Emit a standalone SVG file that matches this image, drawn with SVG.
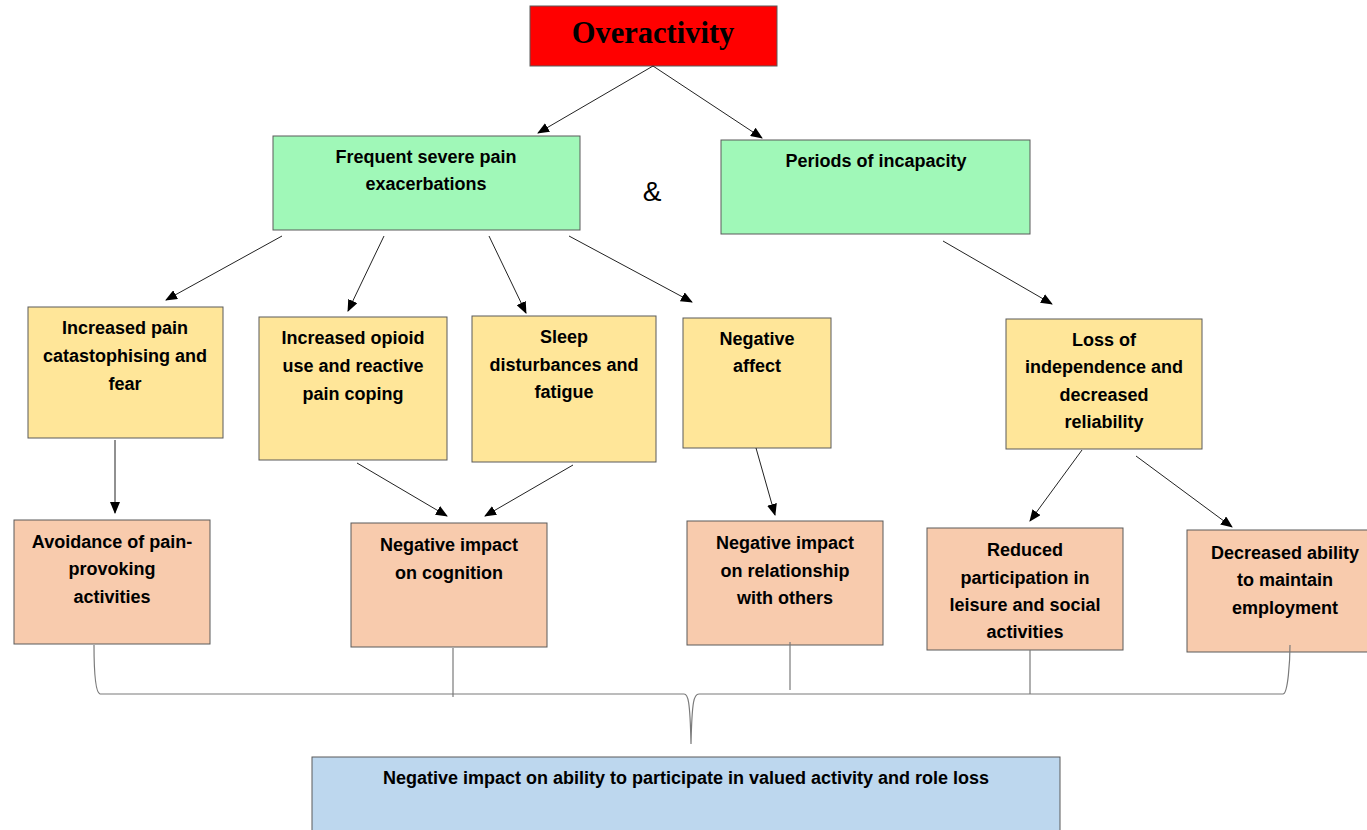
<svg xmlns="http://www.w3.org/2000/svg" width="1367" height="830" viewBox="0 0 1367 830">
<style>
.box{stroke:#5a5a5a;stroke-width:1}
.red{fill:#ff0000}
.green{fill:#a0f8b8}
.yellow{fill:#ffe699}
.salmon{fill:#f8cbad}
.blue{fill:#bdd7ee}
.t{font-family:"Liberation Sans",Arial,sans-serif;font-weight:bold;font-size:18px;fill:#000;text-anchor:middle}
.conn line{stroke:#222;stroke-width:1;marker-end:url(#ah)}
.brace{fill:none;stroke:#7a7a7a;stroke-width:1.2}
</style>
<defs>
<marker id="ah" markerWidth="12" markerHeight="10" refX="11" refY="5" orient="auto" markerUnits="userSpaceOnUse">
<path d="M0,0 L12,5 L0,10 Z" fill="#000"/>
</marker>
</defs>
<rect width="1367" height="830" fill="#fff"/>

<g id="overactivity">
<rect class="box red" x="530" y="6" width="247" height="60"/>
<text x="653" y="43" text-anchor="middle" font-family="Liberation Serif,Times New Roman,serif" font-weight="bold" font-size="30.5">Overactivity</text>
</g>

<g id="pain-exacerbations">
<rect class="box green" x="273" y="136" width="307" height="94"/>
<text class="t" x="426" y="163">Frequent severe pain</text>
<text class="t" x="426" y="190">exacerbations</text>
</g>

<g id="ampersand">
<text x="652" y="201" text-anchor="middle" font-family="Liberation Sans,Arial,sans-serif" font-size="28">&amp;</text>
</g>

<g id="incapacity">
<rect class="box green" x="721" y="140" width="309" height="94"/>
<text class="t" x="876" y="167">Periods of incapacity</text>
</g>

<g id="catastrophising">
<rect class="box yellow" x="28" y="307" width="195" height="131"/>
<text class="t" x="125" y="334">Increased pain</text>
<text class="t" x="125" y="362">catastophising and</text>
<text class="t" x="125" y="390">fear</text>
</g>

<g id="opioid">
<rect class="box yellow" x="259" y="317" width="188" height="143"/>
<text class="t" x="353" y="344">Increased opioid</text>
<text class="t" x="353" y="372">use and reactive</text>
<text class="t" x="353" y="400">pain coping</text>
</g>

<g id="sleep">
<rect class="box yellow" x="472" y="316" width="184" height="146"/>
<text class="t" x="564" y="343">Sleep</text>
<text class="t" x="564" y="371">disturbances and</text>
<text class="t" x="564" y="398">fatigue</text>
</g>

<g id="affect">
<rect class="box yellow" x="683" y="318" width="148" height="130"/>
<text class="t" x="757" y="345">Negative</text>
<text class="t" x="757" y="372">affect</text>
</g>

<g id="independence">
<rect class="box yellow" x="1006" y="319" width="196" height="130"/>
<text class="t" x="1104" y="346">Loss of</text>
<text class="t" x="1104" y="373">independence and</text>
<text class="t" x="1104" y="401">decreased</text>
<text class="t" x="1104" y="428">reliability</text>
</g>

<g id="avoidance">
<rect class="box salmon" x="14" y="520" width="196" height="124"/>
<text class="t" x="112" y="548">Avoidance of pain-</text>
<text class="t" x="112" y="575">provoking</text>
<text class="t" x="112" y="603">activities</text>
</g>

<g id="cognition">
<rect class="box salmon" x="351" y="523" width="196" height="124"/>
<text class="t" x="449" y="551">Negative impact</text>
<text class="t" x="449" y="579">on cognition</text>
</g>

<g id="relationship">
<rect class="box salmon" x="687" y="521" width="196" height="124"/>
<text class="t" x="785" y="549">Negative impact</text>
<text class="t" x="785" y="577">on relationship</text>
<text class="t" x="785" y="604">with others</text>
</g>

<g id="participation">
<rect class="box salmon" x="927" y="528" width="196" height="122"/>
<text class="t" x="1025" y="556">Reduced</text>
<text class="t" x="1025" y="584">participation in</text>
<text class="t" x="1025" y="611">leisure and social</text>
<text class="t" x="1025" y="638">activities</text>
</g>

<g id="employment">
<rect class="box salmon" x="1187" y="530" width="182" height="122"/>
<text class="t" x="1285" y="559">Decreased ability</text>
<text class="t" x="1285" y="586">to maintain</text>
<text class="t" x="1285" y="614">employment</text>
</g>

<g id="role-loss">
<rect class="box blue" x="312" y="757" width="748" height="80"/>
<text class="t" x="686" y="784">Negative impact on ability to participate in valued activity and role loss</text>
</g>

<g id="connectors" class="conn">
<line x1="653" y1="66" x2="538" y2="133"/>
<line x1="653" y1="66" x2="762" y2="138"/>
<line x1="282" y1="236" x2="166" y2="300"/>
<line x1="384" y1="236" x2="348" y2="311"/>
<line x1="489" y1="236" x2="526" y2="313"/>
<line x1="569" y1="236" x2="692" y2="302"/>
<line x1="943" y1="241" x2="1052" y2="304"/>
<line x1="115" y1="440" x2="115" y2="513"/>
<line x1="357" y1="463" x2="447" y2="516"/>
<line x1="573" y1="465" x2="485" y2="516"/>
<line x1="756" y1="448" x2="775" y2="515"/>
<line x1="1082" y1="450" x2="1030" y2="521"/>
<line x1="1136" y1="456" x2="1232" y2="527"/>
</g>

<g id="brace">
<path class="brace" d="M94,645 C94,660 94,692 100,694 L684,694 C688,694 690,700 691,744 C692,700 694,694 699,694 L1283,694 C1288,694 1290,660 1290,645"/>
<line class="brace" x1="453" y1="648" x2="453" y2="697"/>
<line class="brace" x1="790" y1="642" x2="790" y2="690"/>
<line class="brace" x1="1030" y1="650" x2="1030" y2="694"/>
</g>
</svg>
